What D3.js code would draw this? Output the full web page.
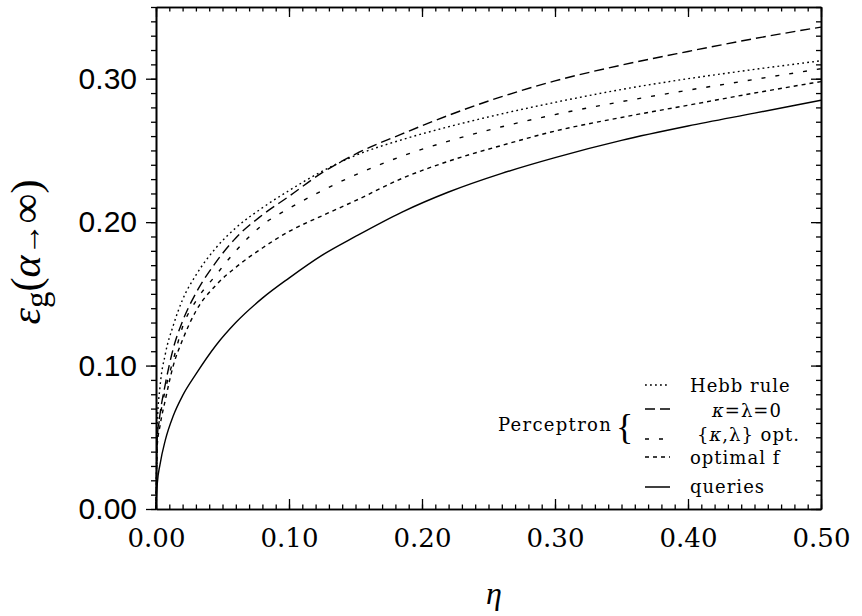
<!DOCTYPE html>
<html>
<head>
<meta charset="utf-8">
<script src="https://cdn.jsdelivr.net/npm/d3@7"></script>
<style>
  body { margin: 0; background: #fff; }
  .frame path.domain { stroke: #000; stroke-width: 1.6px; }
  .frame line { stroke: #000; stroke-width: 1.3px; }
</style>
</head>
<body>
<svg id="chart" width="862" height="616"></svg>
<script>
// noise level eta
const eta = [0, 0.001, 0.003, 0.007, 0.013, 0.02, 0.03, 0.045, 0.06, 0.08, 0.1, 0.125, 0.15, 0.185, 0.22, 0.26, 0.3, 0.35, 0.4, 0.45, 0.5];

// eps_g(alpha -> inf) for each rule
const hebbRule = [0, 0.06, 0.085, 0.108, 0.128, 0.146, 0.163, 0.182, 0.196, 0.210, 0.222, 0.2355, 0.2465, 0.2575, 0.2665, 0.2755, 0.2835, 0.2925, 0.300, 0.3065, 0.3125];
const kappaLambdaZero = [0, 0.05, 0.066, 0.087, 0.112, 0.131, 0.1505, 0.172, 0.189, 0.205, 0.218, 0.2345, 0.2475, 0.2615, 0.2745, 0.2875, 0.2985, 0.3095, 0.319, 0.328, 0.336];
const kappaLambdaOpt = [0, 0.05, 0.064, 0.083, 0.104, 0.127, 0.145, 0.163, 0.180, 0.198, 0.2095, 0.222, 0.233, 0.246, 0.2565, 0.2665, 0.275, 0.284, 0.292, 0.2995, 0.307];
const optimalF = [0, 0.045, 0.058, 0.076, 0.100, 0.118, 0.138, 0.156, 0.1685, 0.182, 0.1935, 0.2045, 0.215, 0.2305, 0.2425, 0.2535, 0.2635, 0.273, 0.2815, 0.290, 0.298];
const queries = [0, 0.018, 0.031, 0.048, 0.065, 0.079, 0.094, 0.114, 0.130, 0.147, 0.161, 0.177, 0.190, 0.207, 0.221, 0.234, 0.245, 0.257, 0.267, 0.276, 0.285];

const xMajor = [0, 0.1, 0.2, 0.3, 0.4, 0.5];
const xLabels = ["0.00", "0.10", "0.20", "0.30", "0.40", "0.50"];
const yMajor = [0, 0.1, 0.2, 0.3];
const yLabels = ["0.00", "0.10", "0.20", "0.30"];

const series = [
    { name: "Hebb rule", values: hebbRule, dash: "1.8,3.2" },
    { name: "κ=λ=0", values: kappaLambdaZero, dash: "10,5" },
    { name: "{κ,λ} opt.", values: kappaLambdaOpt, dash: "4,10" },
    { name: "optimal f", values: optimalF, dash: "4,4" },
    { name: "queries", values: queries, dash: null }
];

const plotLeft = 156, plotRight = 821, plotTop = 7, plotBottom = 509;

const svg = d3.select("#chart");

const x = d3.scaleLinear().domain([0, 0.5]).range([plotLeft, plotRight]);
const y = d3.scaleLinear().domain([0, 0.35]).range([plotBottom, plotTop]);

const xMinor = d3.range(0, 51).map(d => d / 100);
const yMinor = d3.range(0, 36).map(d => d / 100);

// frame: minor ticks
svg.append("g").attr("class", "frame")
    .attr("transform", `translate(0,${plotBottom})`)
    .call(d3.axisBottom(x).tickValues(xMinor).tickSize(-4.5).tickSizeOuter(0).tickFormat(""));
svg.append("g").attr("class", "frame")
    .attr("transform", `translate(0,${plotTop})`)
    .call(d3.axisTop(x).tickValues(xMinor).tickSize(-4.5).tickSizeOuter(0).tickFormat(""));
svg.append("g").attr("class", "frame")
    .attr("transform", `translate(${plotLeft},0)`)
    .call(d3.axisLeft(y).tickValues(yMinor).tickSize(5).tickSizeOuter(0).tickFormat(""));
svg.append("g").attr("class", "frame")
    .attr("transform", `translate(${plotRight},0)`)
    .call(d3.axisRight(y).tickValues(yMinor).tickSize(-5).tickSizeOuter(0).tickFormat(""));

// major ticks + labels
const xAxis = svg.append("g").attr("class", "frame")
    .attr("transform", `translate(0,${plotBottom})`)
    .call(d3.axisBottom(x).tickValues(xMajor).tickSize(-10).tickSizeOuter(0).tickPadding(20)
        .tickFormat((d, i) => xLabels[i]));
xAxis.selectAll("text")
    .attr("font-family", "DejaVu Serif")
    .attr("font-size", 26)
    .attr("fill", "#000");

svg.append("g").attr("class", "frame")
    .attr("transform", `translate(0,${plotTop})`)
    .call(d3.axisTop(x).tickValues(xMajor).tickSize(-10).tickSizeOuter(0).tickFormat(""));

const yAxis = svg.append("g").attr("class", "frame")
    .attr("transform", `translate(${plotLeft},0)`)
    .call(d3.axisLeft(y).tickValues(yMajor).tickSize(10).tickSizeOuter(0).tickPadding(9)
        .tickFormat((d, i) => yLabels[i]));
yAxis.selectAll("text")
    .attr("font-family", "Liberation Sans")
    .attr("font-size", 30)
    .attr("fill", "#000");

svg.append("g").attr("class", "frame")
    .attr("transform", `translate(${plotRight},0)`)
    .call(d3.axisRight(y).tickValues(yMajor).tickSize(-10).tickSizeOuter(0).tickFormat(""));

// curves
const line = d3.line()
    .x((d, i) => x(eta[i]))
    .y(d => y(d))
    .curve(d3.curveMonotoneX);

svg.selectAll(".curve")
    .data(series)
    .join("path")
    .attr("class", "curve")
    .attr("d", d => line(d.values))
    .attr("fill", "none")
    .attr("stroke", "#000")
    .attr("stroke-width", 1.4)
    .attr("stroke-dasharray", d => d.dash);

// legend
const legendRows = [
    { y: 385, ty: 392, tx: 690 },
    { y: 409, ty: 417, tx: 712 },
    { y: 439, ty: 441, tx: 697 },
    { y: 457, ty: 464, tx: 690 },
    { y: 487, ty: 493, tx: 690 }
];

const legend = svg.append("g");
series.forEach((s, i) => {
    const r = legendRows[i];
    legend.append("line")
        .attr("x1", 645).attr("x2", 670)
        .attr("y1", r.y).attr("y2", r.y)
        .attr("stroke", "#000")
        .attr("stroke-width", 1.5)
        .attr("stroke-dasharray", s.dash);
    const t = legend.append("text")
        .attr("x", r.tx).attr("y", r.ty)
        .attr("font-family", "DejaVu Serif")
        .attr("font-size", 18)
        .attr("letter-spacing", 1);
    // italic kappa as in the printed legend
    s.name.split(/(κ)/).forEach(part => {
        if (!part) return;
        const ts = t.append("tspan").text(part);
        if (part === "κ") ts.attr("font-style", "italic");
    });
});

legend.append("text")
    .attr("x", 498).attr("y", 431)
    .attr("font-family", "DejaVu Serif")
    .attr("font-size", 18)
    .attr("letter-spacing", 1.3)
    .text("Perceptron");
legend.append("text")
    .attr("x", 616).attr("y", 439)
    .attr("font-family", "Liberation Serif")
    .attr("font-size", 36)
    .text("{");

// axis titles
svg.append("text")
    .attr("x", 494).attr("y", 604)
    .attr("text-anchor", "middle")
    .attr("font-family", "Liberation Serif")
    .attr("font-style", "italic")
    .attr("font-size", 32)
    .text("η");

const yTitle = svg.append("text")
    .attr("transform", "translate(40,252) rotate(-90)")
    .attr("text-anchor", "middle")
    .attr("font-family", "Liberation Serif")
    .attr("font-size", 42);
yTitle.append("tspan").attr("font-style", "italic").text("ε");
yTitle.append("tspan").attr("dy", 8).attr("font-size", 33).text("g");
yTitle.append("tspan").attr("dy", -8).text("(");
yTitle.append("tspan").attr("font-style", "italic").text("α");
yTitle.append("tspan").attr("font-size", 32).text("→");
yTitle.append("tspan").text("∞)");
</script>
</body>
</html>
